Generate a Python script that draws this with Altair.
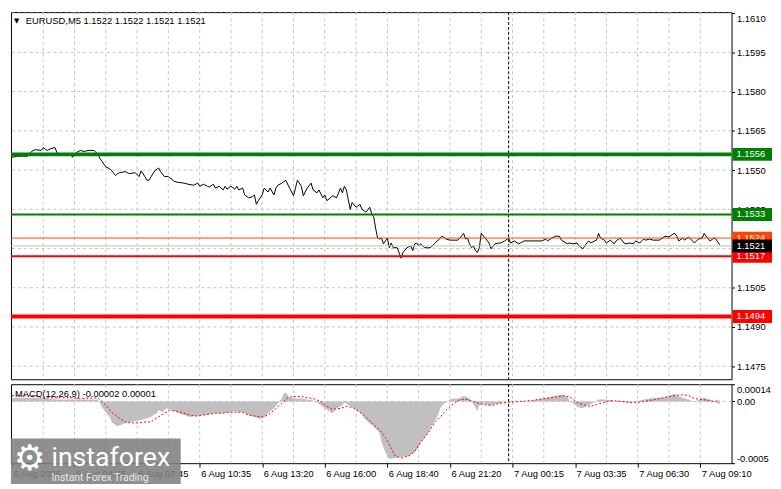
import altair as alt
import pandas as pd

# ---------------- data ----------------
price_bars = [0, 3, 8, 10, 12, 15, 16, 18, 20, 22,
              23, 24, 26, 28, 30, 31, 33, 35, 37, 39,
              42, 44, 45, 46, 48, 50, 51, 53, 54, 55,
              58, 60, 63, 65, 66, 68, 69, 70, 73, 75,
              76, 78, 80, 83, 85, 88, 90, 93, 95, 96,
              98, 100, 101, 103, 104, 106, 108, 109, 110, 112,
              114, 115, 116, 118, 119, 121, 123, 124, 125, 126,
              128, 129, 131, 132, 134, 135, 136, 138, 140, 142,
              144, 145, 146, 148, 149, 151, 153, 154, 156, 157,
              159, 160, 161, 163, 164, 166, 168, 169, 170, 171,
              173, 174, 176, 178, 179, 181, 183, 184, 185, 186,
              187, 188, 189, 190, 192, 193, 194, 195, 197, 199,
              200, 202, 204, 205, 206, 207, 208, 209, 211, 213,
              214, 216, 219, 220, 222, 224, 226, 228, 229, 231,
              232, 233, 234, 235, 236, 237, 238, 239, 240, 242,
              244, 245, 247, 249, 250, 252, 254, 255, 257, 259,
              260, 262, 264, 268, 271, 273, 274, 276, 278, 280,
              281, 284, 285, 287, 289, 290, 292, 294, 295, 296,
              298, 299, 300, 301, 303, 304, 306, 308, 309, 311,
              313, 314, 316, 318, 319, 321, 323, 324, 326, 328,
              331, 334, 336, 338, 339, 340, 341, 343, 344, 346,
              348, 349, 351, 353, 354, 355, 357, 359, 360, 362]
price_vals = [1.15549, 1.15553, 1.15553, 1.15571, 1.15578, 1.15575, 1.15586, 1.15575, 1.15582, 1.15586,
              1.15567, 1.15560, 1.15560, 1.15556, 1.15560, 1.15549, 1.15567, 1.15575, 1.15571, 1.15575,
              1.15575, 1.15560, 1.15545, 1.15534, 1.15512, 1.15505, 1.15497, 1.15479, 1.15486, 1.15490,
              1.15494, 1.15486, 1.15490, 1.15475, 1.15497, 1.15475, 1.15461, 1.15461, 1.15497, 1.15508,
              1.15494, 1.15475, 1.15475, 1.15457, 1.15453, 1.15450, 1.15446, 1.15442, 1.15450, 1.15438,
              1.15446, 1.15438, 1.15435, 1.15446, 1.15431, 1.15438, 1.15424, 1.15438, 1.15427, 1.15438,
              1.15427, 1.15438, 1.15424, 1.15431, 1.15405, 1.15394, 1.15398, 1.15405, 1.15369, 1.15383,
              1.15405, 1.15431, 1.15416, 1.15431, 1.15405, 1.15431, 1.15442, 1.15450, 1.15461, 1.15431,
              1.15402, 1.15431, 1.15461, 1.15438, 1.15402, 1.15431, 1.15450, 1.15424, 1.15413, 1.15424,
              1.15394, 1.15405, 1.15383, 1.15394, 1.15402, 1.15394, 1.15431, 1.15413, 1.15438, 1.15424,
              1.15350, 1.15376, 1.15358, 1.15369, 1.15350, 1.15339, 1.15358, 1.15332, 1.15321, 1.15277,
              1.15240, 1.15236, 1.15240, 1.15218, 1.15240, 1.15203, 1.15221, 1.15203, 1.15203, 1.15163,
              1.15185, 1.15203, 1.15210, 1.15192, 1.15218, 1.15221, 1.15210, 1.15218, 1.15203, 1.15203,
              1.15203, 1.15218, 1.15240, 1.15247, 1.15236, 1.15232, 1.15232, 1.15232, 1.15240, 1.15258,
              1.15236, 1.15240, 1.15218, 1.15203, 1.15210, 1.15192, 1.15185, 1.15203, 1.15258, 1.15240,
              1.15221, 1.15199, 1.15218, 1.15221, 1.15221, 1.15229, 1.15240, 1.15221, 1.15229, 1.15218,
              1.15221, 1.15229, 1.15229, 1.15229, 1.15229, 1.15236, 1.15229, 1.15240, 1.15247, 1.15247,
              1.15232, 1.15218, 1.15221, 1.15218, 1.15221, 1.15210, 1.15199, 1.15221, 1.15229, 1.15221,
              1.15229, 1.15232, 1.15258, 1.15240, 1.15232, 1.15221, 1.15232, 1.15218, 1.15229, 1.15240,
              1.15221, 1.15218, 1.15221, 1.15218, 1.15229, 1.15221, 1.15236, 1.15232, 1.15236, 1.15232,
              1.15232, 1.15247, 1.15244, 1.15255, 1.15258, 1.15247, 1.15229, 1.15240, 1.15232, 1.15244,
              1.15229, 1.15221, 1.15236, 1.15240, 1.15258, 1.15247, 1.15229, 1.15240, 1.15236, 1.15214]

hist_bars = [0, 15, 23, 31, 44, 46, 48, 50, 51, 53,
             54, 56, 58, 61, 64, 68, 71, 74, 75, 77,
             79, 81, 84, 88, 91, 94, 98, 101, 104, 108,
             111, 114, 118, 121, 124, 127, 129, 131, 134, 136,
             138, 139, 140, 142, 144, 148, 151, 154, 156, 158,
             160, 163, 164, 166, 169, 170, 171, 174, 178, 181,
             184, 188, 189, 191, 193, 196, 199, 203, 206, 208,
             209, 211, 213, 214, 216, 218, 219, 221, 223, 224,
             226, 229, 230, 232, 234, 235, 237, 238, 239, 241,
             243, 244, 246, 248, 249, 251, 253, 256, 259, 263,
             266, 269, 273, 276, 279, 281, 284, 285, 287, 289,
             291, 293, 294, 296, 298, 300, 303, 306, 309, 313,
             316, 319, 323, 326, 329, 333, 336, 339, 340, 343,
             346, 349, 353, 354, 357, 359, 361, 362]
hist_vals = [0.00003, 0.00003, 0.000016, 0.000016, 0.000016, -0.000047, -0.000087, -0.000126, -0.000166, -0.00019,
             -0.000198, -0.00019, -0.000174, -0.000166, -0.000158, -0.000142, -0.000126, -0.000095, -0.000071, -0.000087,
             -0.000055, -0.000063, -0.000087, -0.00011, -0.000126, -0.000118, -0.00011, -0.000103, -0.000095, -0.000095,
             -0.000087, -0.000079, -0.000087, -0.00011, -0.000126, -0.000142, -0.000126, -0.000095, -0.000055, -0.000016,
             0.000024, 0.000063, 0.000071, 0.00003, 0.000024, 0.000024, 0.000016, 0.000008, -0.000008, -0.00003,
             -0.000055, -0.000087, -0.000095, -0.000055, -0.00003, -0.000008, -0.000016, -0.000047, -0.000087, -0.00015,
             -0.00019, -0.000253, -0.000332, -0.000411, -0.000466, -0.000458, -0.00045, -0.000442, -0.000411, -0.000371,
             -0.000332, -0.000292, -0.000253, -0.000213, -0.000166, -0.00011, -0.000055, -0.000016, 0.0, 0.000016,
             0.000024, 0.000024, 0.00004, 0.00004, 0.000024, 0.0, -0.000047, -0.000079, -0.00003, -0.000016,
             -0.000024, -0.00003, -0.000024, -0.000016, -0.000016, -0.000008, 0.0, 0.000008, 0.0, 0.0,
             0.000008, 0.000016, 0.00003, 0.00004, 0.000047, 0.000055, 0.00004, 0.000008, -0.000016, -0.00004,
             -0.000055, -0.000047, -0.00003, -0.000024, 0.0, 0.000016, 0.000016, 0.000008, 0.0, -0.000008,
             -0.000008, 0.0, 0.000016, 0.000024, 0.00003, 0.00003, 0.000047, 0.000063, 0.000047, 0.00003,
             0.000016, 0.0, 0.000024, 0.00003, 0.000016, 0.0, -0.000016, -0.00002]

sig_bars = [0, 13, 15, 31, 36, 44, 48, 51, 54, 58,
            61, 64, 68, 71, 74, 78, 81, 84, 88, 91,
            94, 98, 101, 104, 108, 111, 118, 121, 128, 131,
            134, 138, 141, 144, 148, 151, 154, 158, 161, 164,
            168, 171, 174, 178, 181, 184, 188, 191, 193, 196,
            199, 203, 206, 209, 213, 216, 219, 222, 225, 227,
            229, 233, 236, 239, 243, 246, 249, 253, 259, 266,
            269, 273, 276, 279, 283, 286, 289, 293, 296, 299,
            303, 306, 313, 316, 319, 323, 326, 329, 333, 336,
            339, 343, 346, 349, 353, 356, 359, 362]
sig_vals = [0.000047, 0.000047, 0.00003, 0.00003, 0.000024, 0.00003, -0.00003, -0.000087, -0.000126, -0.000166,
            -0.000174, -0.000174, -0.000166, -0.000166, -0.000134, -0.000095, -0.000071, -0.000079, -0.000095, -0.00011,
            -0.000118, -0.00011, -0.000103, -0.000095, -0.000095, -0.000087, -0.000087, -0.00011, -0.000126, -0.00011,
            -0.000071, -0.000016, 0.00003, 0.00004, 0.00004, 0.00003, 0.000024, 0.0, -0.00004, -0.000063,
            -0.000055, -0.00004, -0.000047, -0.000087, -0.000126, -0.000174, -0.000229, -0.000292, -0.00035, -0.000442,
            -0.000458, -0.000442, -0.000403, -0.000332, -0.000253, -0.000174, -0.000126, -0.00007, -0.00003, -0.000005,
            0.000016, 0.000016, 0.0, -0.000016, -0.00003, -0.00003, -0.000016, -0.000008, 0.0, 0.000008,
            0.000016, 0.000024, 0.00003, 0.00004, 0.000047, 0.00003, -0.000008, -0.00003, -0.00004, -0.000024,
            -0.000008, 0.000008, 0.0, -0.000008, -0.000008, 0.0, 0.000008, 0.000016, 0.00003, 0.00004,
            0.000047, 0.000055, 0.000047, 0.000024, 0.000016, 0.000008, 0.0, 0.00001]

level_vals = [1.1556, 1.1533, 1.1517, 1.1494]
level_colors = ["#007f00", "#007f00", "#ff0000", "#ff0000"]
level_widths = [4, 2, 2, 4]
ask_val = 1.1524
bid_val = 1.1521

box_vals = [1.1556, 1.1533, 1.1494, 1.1517, 1.1524]
box_colors = ["#007f00", "#007f00", "#ff0000", "#ff0000", "#ff4500"]
bid_box_color = "#000000"

price_ticks = [1.1475, 1.1490, 1.1505, 1.1520, 1.1535, 1.1550, 1.1565, 1.1580, 1.1595, 1.1610]
macd_ticks = [0.00014, 0.0, -0.0005]
macd_zero = [0.0]

time_tick_bars = [0, 32, 64, 96, 128, 160, 192, 224, 256, 288, 320, 352]
time_labels = ["6 Aug 2026", "6 Aug 04:45", "6 Aug 07:45", "6 Aug 10:35", "6 Aug 13:20", "6 Aug 16:00",
               "6 Aug 18:40", "6 Aug 21:20", "7 Aug 00:15", "7 Aug 03:35", "7 Aug 06:30", "7 Aug 09:10"]
grid_bars = [16, 32, 48, 64, 80, 96, 112, 128, 144, 160, 176, 192, 208, 224, 240, 256, 272, 288, 304, 320, 336, 352]
separator_bar = 254

header_text = "EURUSD,M5  1.1522 1.1522 1.1521 1.1521"
macd_text = "MACD(12,26,9) -0.00002 0.00001"

# ---------------- chart ----------------
F = "Liberation Sans"
FS = 9.5
W, H1, H2 = 730, 372, 80
GRID = "#c4c4c4"

xs = alt.Scale(domain=[-0.5, 368], nice=False, zero=False)
ys = alt.Scale(domain=[1.14700, 1.16104], nice=False, zero=False)
ms = alt.Scale(domain=[-0.0005, 0.00014], nice=False, zero=False)

price_df = pd.DataFrame({"b": price_bars, "p": price_vals})
hist_df = pd.DataFrame({"b": hist_bars, "v": hist_vals})
sig_df = pd.DataFrame({"b": sig_bars, "v": sig_vals})
grid_df = pd.DataFrame({"b": grid_bars})
hgrid_df = pd.DataFrame({"p": price_ticks})
zero_df = pd.DataFrame({"v": macd_zero})
sep_df = pd.DataFrame({"b": [separator_bar]})
level_df = pd.DataFrame({"p": level_vals, "c": level_colors, "w": level_widths})
box_df = pd.DataFrame({"p": box_vals, "c": box_colors})
bid_df = pd.DataFrame({"p": [bid_val], "c": [bid_box_color]})


def one(t):
    return pd.DataFrame({"t": [t]})


price_axis = alt.Axis(orient="right", values=price_ticks, format=".4f", title=None, grid=False,
                      tickSize=3, labelPadding=2, labelOverlap=False,
                      labelBaseline={"condition": {"test": "datum.value > 1.16095", "value": "top"},
                                     "value": "middle"})

labels_js = "[" + ",".join("'" + s + "'" for s in time_labels) + "]"
bars_js = "[" + ",".join(str(b) for b in time_tick_bars) + "]"
time_axis = alt.Axis(orient="bottom", values=time_tick_bars, title=None, grid=False, domain=False,
                     labelExpr=labels_js + "[indexof(" + bars_js + ", datum.value)]",
                     labelAlign="left", labelFlush=False, labelOverlap=False, tickSize=4, labelPadding=1,
                     labelOffset=1)
macd_axis = alt.Axis(orient="right", values=macd_ticks, title=None, grid=False, tickSize=3, labelPadding=2,
                     labelOverlap=False,
                     labelExpr="datum.value > 0.0001 ? '0.00014' : (datum.value < -0.0004 ? '-0.0005' : '0.00')",
                     labelBaseline={"condition": [{"test": "datum.value > 0.0001", "value": "top"},
                                                  {"test": "datum.value < -0.0004", "value": "bottom"}],
                                    "value": "middle"})


def mx(axis):
    return alt.X("b:Q", scale=xs, axis=axis)


def py(field="p"):
    return alt.Y(field + ":Q", scale=ys, axis=price_axis)


def my(field="v"):
    return alt.Y(field + ":Q", scale=ms, axis=macd_axis)


# ---- main price panel ----
vgrid_m = alt.Chart(grid_df).mark_rule(color=GRID, strokeDash=[3, 3], strokeWidth=1).encode(x=mx(None))
hgrid_m = alt.Chart(hgrid_df).mark_rule(color=GRID, strokeDash=[3, 3], strokeWidth=1).encode(y=py())
sep_m = alt.Chart(sep_df).mark_rule(color="black", strokeDash=[3, 2], strokeWidth=1).encode(x=mx(None))

price_line = alt.Chart(price_df).mark_line(color="black", strokeWidth=1).encode(x=mx(None), y=py())

ask_rule = alt.Chart(pd.DataFrame({"p": [ask_val]})).mark_rule(color="#ff4500", strokeWidth=1).encode(y=py())
bid_rule = alt.Chart(pd.DataFrame({"p": [bid_val]})).mark_rule(color="#c0c0c0", strokeWidth=1).encode(y=py())
levels = alt.Chart(level_df).mark_rule().encode(
    y=py(), color=alt.Color("c:N", scale=None), strokeWidth=alt.StrokeWidth("w:Q", scale=None))


def box_layers(df):
    b = alt.Chart(df).mark_tick(orient="horizontal", size=40, thickness=13, opacity=1).encode(
        x=alt.value(W + 21), y=py(), color=alt.Color("c:N", scale=None))
    t = alt.Chart(df).mark_text(align="left", baseline="middle", color="white", font=F, fontSize=FS).encode(
        x=alt.value(W + 5), y=py(), text=alt.Text("p:Q", format=".4f"))
    return [b, t]


tri = alt.Chart(one("▼")).mark_text(align="left", baseline="middle", font="DejaVu Sans", fontSize=7,
                                     color="black").encode(x=alt.value(3), y=alt.value(9), text="t:N")
hdr = alt.Chart(one(header_text)).mark_text(align="left", baseline="middle", font=F, fontSize=FS,
                                             color="black").encode(x=alt.value(15), y=alt.value(9), text="t:N")

main = alt.layer(vgrid_m, hgrid_m, sep_m, price_line, ask_rule, bid_rule, levels,
                 *box_layers(box_df), *box_layers(bid_df), tri, hdr).properties(width=W, height=H1)

# ---- MACD panel ----
vgrid_d = alt.Chart(grid_df).mark_rule(color=GRID, strokeDash=[3, 3], strokeWidth=1).encode(x=mx(time_axis))
zero_d = alt.Chart(zero_df).mark_rule(color=GRID, strokeDash=[3, 3], strokeWidth=1).encode(y=my())
sep_d = alt.Chart(sep_df).mark_rule(color="black", strokeDash=[3, 2], strokeWidth=1).encode(x=mx(time_axis))
hist = alt.Chart(hist_df).mark_area(color="#c0c0c0", opacity=1).encode(
    x=mx(time_axis), y=my(), y2=alt.datum(0))
sig = alt.Chart(sig_df).mark_line(color="#ff0000", strokeDash=[2, 2], strokeWidth=1).encode(
    x=mx(time_axis), y=my())
mhdr = alt.Chart(one(macd_text)).mark_text(align="left", baseline="middle", font=F, fontSize=FS,
                                            color="black").encode(x=alt.value(4), y=alt.value(10), text="t:N")

logo_box = alt.Chart(one("box")).mark_rect(color="#7f7f7f", opacity=0.88).encode(
    x=alt.value(0), x2=alt.value(172), y=alt.value(55), y2=alt.value(101))
gear = alt.Chart(one("⚙")).mark_text(align="center", baseline="middle", font="DejaVu Sans", fontSize=36,
                                      color="white").encode(x=alt.value(19), y=alt.value(76), text="t:N")
logo_txt = alt.Chart(one("instaforex")).mark_text(align="left", baseline="alphabetic", font="Roboto",
                                                   fontSize=27, color="white").encode(
    x=alt.value(41), y=alt.value(83), text="t:N")
logo_sub = alt.Chart(one("Instant Forex Trading")).mark_text(align="left", baseline="alphabetic", font="Roboto",
                                                              fontSize=10.5, color="#e8e8e8").encode(
    x=alt.value(41), y=alt.value(98), text="t:N")

macd = alt.layer(vgrid_d, zero_d, sep_d, hist, sig, mhdr, logo_box, gear, logo_txt, logo_sub).properties(
    width=W, height=H2)

chart = alt.vconcat(main, macd, spacing=3).properties(padding=0, background="white").configure_view(
    stroke="black", strokeWidth=1
).configure_axis(
    labelFont=F, labelFontSize=FS, labelColor="black", tickColor="black", domain=False
)

chart.save("out.html", embed_options={"renderer": "svg", "actions": False})
